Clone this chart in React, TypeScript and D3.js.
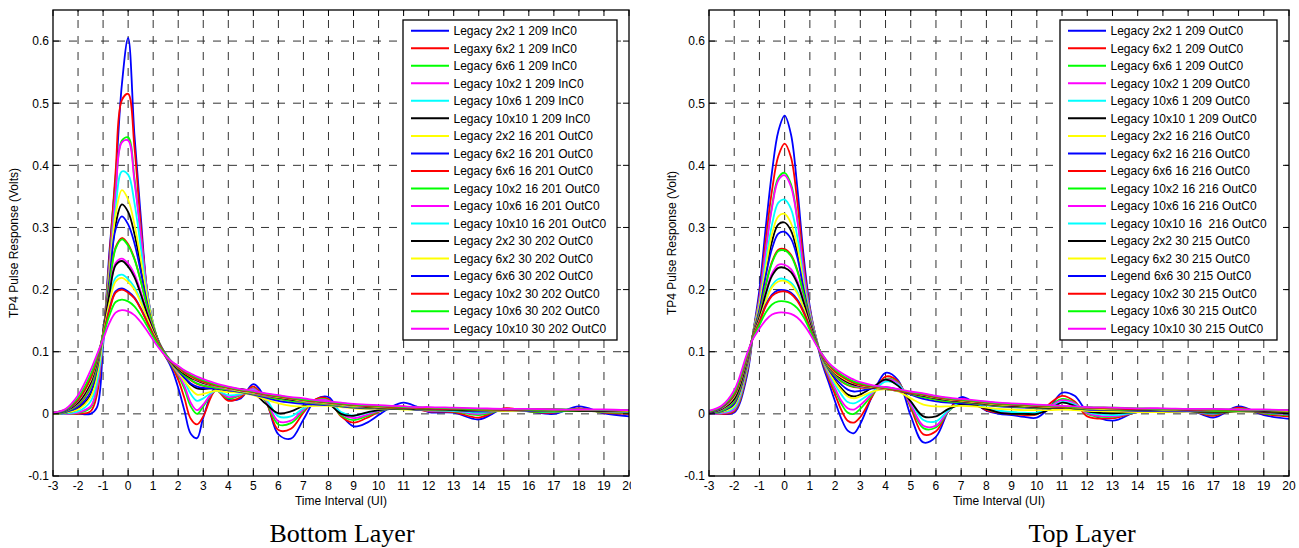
import React from "react";
import * as d3 from "d3";

// sample positions (UI) shared by every trace
const T = [-3, -2.5, -2, -1.5, -1.25, -1, -0.75, -0.5, -0.25,
  0, 0.25, 0.5, 0.75, 1, 1.25, 1.5, 1.75,
  2, 2.25, 2.5, 2.75, 3,
  3.5, 4, 4.5, 5, 5.5, 6, 6.5, 7, 7.5, 8, 8.5, 9, 9.5, 10, 10.5, 11, 11.5, 12,
  13, 14, 15, 16, 17, 18, 19, 20];

const xTicks = [-3, -2, -1, 0, 1, 2, 3, 4, 5, 6, 7, 8, 9, 10, 11, 12, 13, 14, 15, 16, 17, 18, 19, 20];
const yTicks = [-0.1, 0, 0.1, 0.2, 0.3, 0.4, 0.5, 0.6];
const yTickLabels = ["-0.1", "0", "0.1", "0.2", "0.3", "0.4", "0.5", "0.6"];

// matlab default line cycle b r g m c k y
const colors = ["#0000ff", "#ff0000", "#00ff00", "#ff00ff", "#00ffff", "#000000", "#ffff00"];

const bottomNames = [
  "Legacy 2x2 1 209 InC0", "Legaxy 6x2 1 209 InC0", "Legacy 6x6 1 209 InC0",
  "Legacy 10x2 1 209 InC0", "Legacy 10x6 1 209 InC0", "Legacy 10x10 1 209 InC0",
  "Legacy 2x2 16 201 OutC0", "Legacy 6x2 16 201 OutC0", "Legacy 6x6 16 201 OutC0",
  "Legacy 10x2 16 201 OutC0", "Legacy 10x6 16 201 OutC0", "Legacy 10x10 16 201 OutC0",
  "Legacy 2x2 30 202 OutC0", "Legacy 6x2 30 202 OutC0", "Legacy 6x6 30 202 OutC0",
  "Legacy 10x2 30 202 OutC0", "Legacy 10x6 30 202 OutC0", "Legacy 10x10 30 202 OutC0",
];

const topNames = [
  "Legacy 2x2 1 209 OutC0", "Legacy 6x2 1 209 OutC0", "Legacy 6x6 1 209 OutC0",
  "Legacy 10x2 1 209 OutC0", "Legacy 10x6 1 209 OutC0", "Legacy 10x10 1 209 OutC0",
  "Legacy 2x2 16 216 OutC0", "Legacy 6x2 16 216 OutC0", "Legacy 6x6 16 216 OutC0",
  "Legacy 10x2 16 216 OutC0", "Legacy 10x6 16 216 OutC0", "Legacy 10x10 16  216 OutC0",
  "Legacy 2x2 30 215 OutC0", "Legacy 6x2 30 215 OutC0", "Legend 6x6 30 215 OutC0",
  "Legacy 10x2 30 215 OutC0", "Legacy 10x6 30 215 OutC0", "Legacy 10x10 30 215 OutC0",
];

// bottom layer pulse responses (V)
const bottomSeries = [
  [0, 0, 0, 0, 0.01, 0.11, 0.26, 0.38, 0.53,
    0.605, 0.45, 0.32, 0.2, 0.14, 0.11, 0.092, 0.072,
    0.042, 0.005, -0.032, -0.039, -0.006,
    0.042, 0.023, 0.025, 0.048, 0.022, -0.033, -0.04, -0.009, 0.023, 0.027, -0.001, -0.02, -0.015, -0.002, 0.011, 0.018, 0.012, 0.003,
    0.002, -0.009, 0.008, 0.004, 0, 0.012, 0.001, -0.004],
  [0, 0, 0, 0.004, 0.03, 0.12, 0.25, 0.39, 0.505,
    0.515, 0.43, 0.305, 0.2, 0.14, 0.108, 0.092, 0.077,
    0.055, 0.025, -0.008, -0.017, -0.004,
    0.038, 0.021, 0.027, 0.044, 0.02, -0.026, -0.024, 0.002, 0.024, 0.024, -0.004, -0.014, -0.007, 0.003, 0.01, 0.012, 0.008, 0.004,
    0.003, -0.006, 0.009, 0.004, 0.002, 0.009, 0.002, 0],
  [0, 0, 0.001, 0.01, 0.04, 0.12, 0.24, 0.36, 0.44,
    0.445, 0.38, 0.29, 0.2, 0.145, 0.11, 0.093, 0.078,
    0.062, 0.04, 0.012, 0, 0.012,
    0.038, 0.025, 0.03, 0.041, 0.02, -0.017, -0.015, 0.005, 0.022, 0.022, -0.002, -0.01, -0.004, 0.004, 0.008, 0.009, 0.007, 0.005,
    0.004, -0.002, 0.007, 0.004, 0.003, 0.007, 0.003, 0.002],
  [0, 0, 0.002, 0.012, 0.042, 0.12, 0.235, 0.355, 0.437,
    0.44, 0.375, 0.29, 0.2, 0.145, 0.112, 0.094, 0.079,
    0.064, 0.045, 0.018, 0.006, 0.015,
    0.038, 0.027, 0.031, 0.04, 0.022, -0.012, -0.011, 0.007, 0.021, 0.021, 0, -0.007, -0.002, 0.005, 0.008, 0.009, 0.007, 0.005,
    0.005, 0, 0.007, 0.005, 0.004, 0.006, 0.004, 0.003],
  [0, 0.001, 0.004, 0.02, 0.05, 0.12, 0.225, 0.33, 0.39,
    0.385, 0.34, 0.27, 0.195, 0.145, 0.113, 0.095, 0.08,
    0.067, 0.052, 0.032, 0.021, 0.025,
    0.037, 0.03, 0.032, 0.038, 0.024, -0.004, -0.004, 0.009, 0.019, 0.019, 0.003, -0.003, 0.001, 0.006, 0.008, 0.008, 0.007, 0.006,
    0.005, 0.002, 0.006, 0.005, 0.004, 0.005, 0.004, 0.003],
  [0, 0.002, 0.008, 0.03, 0.065, 0.13, 0.22, 0.305, 0.337,
    0.325, 0.29, 0.24, 0.185, 0.142, 0.113, 0.095, 0.08,
    0.068, 0.058, 0.047, 0.041, 0.04,
    0.041, 0.037, 0.04, 0.034, 0.016, 0.001, 0.004, 0.013, 0.018, 0.016, 0, -0.003, 0.002, 0.006, 0.008, 0.008, 0.007, 0.006,
    0.006, 0.004, 0.005, 0.005, 0.005, 0.005, 0.004, 0.004],
  [0, 0.002, 0.007, 0.027, 0.06, 0.125, 0.225, 0.32, 0.36,
    0.345, 0.305, 0.25, 0.19, 0.144, 0.113, 0.095, 0.08,
    0.067, 0.053, 0.04, 0.031, 0.032,
    0.037, 0.035, 0.034, 0.03, 0.023, 0.017, 0.013, 0.012, 0.013, 0.013, 0.011, 0.009, 0.008, 0.008, 0.008, 0.007, 0.007, 0.006,
    0.006, 0.005, 0.005, 0.005, 0.005, 0.005, 0.004, 0.004],
  [0.001, 0.003, 0.011, 0.035, 0.07, 0.13, 0.215, 0.297, 0.318,
    0.305, 0.275, 0.23, 0.18, 0.14, 0.113, 0.095, 0.081,
    0.069, 0.058, 0.049, 0.044, 0.042,
    0.041, 0.038, 0.035, 0.031, 0.026, 0.021, 0.018, 0.016, 0.015, 0.014, 0.012, 0.01, 0.009, 0.009, 0.008, 0.008, 0.007, 0.007,
    0.006, 0.005, 0.006, 0.005, 0.005, 0.006, 0.005, 0.004],
  [0.001, 0.004, 0.014, 0.042, 0.075, 0.13, 0.205, 0.268, 0.283,
    0.273, 0.25, 0.215, 0.175, 0.14, 0.114, 0.096, 0.082,
    0.071, 0.062, 0.054, 0.048, 0.045,
    0.042, 0.039, 0.036, 0.032, 0.028, 0.024, 0.021, 0.019, 0.017, 0.015, 0.013, 0.011, 0.01, 0.009, 0.009, 0.008, 0.008, 0.007,
    0.007, 0.006, 0.006, 0.006, 0.005, 0.005, 0.005, 0.005],
  [0.001, 0.004, 0.015, 0.043, 0.076, 0.13, 0.203, 0.266, 0.281,
    0.271, 0.249, 0.214, 0.174, 0.14, 0.114, 0.096, 0.082,
    0.071, 0.062, 0.055, 0.049, 0.046,
    0.042, 0.039, 0.036, 0.032, 0.028, 0.024, 0.021, 0.019, 0.017, 0.015, 0.013, 0.011, 0.01, 0.009, 0.009, 0.008, 0.008, 0.007,
    0.007, 0.006, 0.006, 0.006, 0.005, 0.005, 0.005, 0.005],
  [0.001, 0.005, 0.017, 0.048, 0.081, 0.13, 0.195, 0.243, 0.25,
    0.242, 0.225, 0.197, 0.165, 0.136, 0.113, 0.096, 0.083,
    0.073, 0.065, 0.058, 0.053, 0.049,
    0.044, 0.04, 0.037, 0.033, 0.029, 0.026, 0.023, 0.02, 0.018, 0.016, 0.014, 0.012, 0.011, 0.01, 0.01, 0.009, 0.009, 0.008,
    0.008, 0.007, 0.007, 0.006, 0.006, 0.006, 0.005, 0.005],
  [0.002, 0.006, 0.02, 0.053, 0.084, 0.128, 0.182, 0.219, 0.224,
    0.217, 0.204, 0.183, 0.157, 0.132, 0.112, 0.096, 0.083,
    0.074, 0.066, 0.06, 0.055, 0.051,
    0.045, 0.041, 0.037, 0.034, 0.03, 0.027, 0.024, 0.021, 0.019, 0.017, 0.015, 0.013, 0.012, 0.011, 0.01, 0.01, 0.009, 0.009,
    0.008, 0.007, 0.007, 0.007, 0.006, 0.006, 0.006, 0.005],
  [0.001, 0.005, 0.018, 0.05, 0.082, 0.13, 0.192, 0.239, 0.246,
    0.237, 0.22, 0.193, 0.162, 0.134, 0.112, 0.095, 0.082,
    0.072, 0.064, 0.058, 0.054, 0.05,
    0.045, 0.041, 0.038, 0.034, 0.03, 0.026, 0.023, 0.021, 0.019, 0.017, 0.015, 0.013, 0.011, 0.01, 0.009, 0.009, 0.008, 0.008,
    0.007, 0.006, 0.006, 0.006, 0.006, 0.005, 0.005, 0.005],
  [0.002, 0.006, 0.021, 0.054, 0.085, 0.128, 0.178, 0.213, 0.219,
    0.212, 0.2, 0.18, 0.155, 0.131, 0.111, 0.095, 0.083,
    0.074, 0.066, 0.06, 0.055, 0.051,
    0.045, 0.041, 0.037, 0.034, 0.03, 0.027, 0.024, 0.021, 0.019, 0.017, 0.015, 0.013, 0.012, 0.011, 0.01, 0.01, 0.009, 0.009,
    0.008, 0.007, 0.007, 0.007, 0.006, 0.006, 0.006, 0.005],
  [0.002, 0.006, 0.022, 0.057, 0.087, 0.125, 0.168, 0.197, 0.202,
    0.197, 0.187, 0.17, 0.149, 0.128, 0.11, 0.095, 0.083,
    0.075, 0.067, 0.061, 0.056, 0.052,
    0.046, 0.042, 0.038, 0.035, 0.031, 0.028, 0.025, 0.022, 0.02, 0.018, 0.016, 0.014, 0.013, 0.012, 0.011, 0.01, 0.01, 0.009,
    0.008, 0.008, 0.007, 0.007, 0.007, 0.006, 0.006, 0.006],
  [0.002, 0.007, 0.023, 0.058, 0.088, 0.125, 0.166, 0.195, 0.2,
    0.195, 0.186, 0.169, 0.148, 0.127, 0.11, 0.095, 0.083,
    0.075, 0.067, 0.061, 0.056, 0.052,
    0.046, 0.042, 0.038, 0.035, 0.031, 0.028, 0.025, 0.022, 0.02, 0.018, 0.016, 0.014, 0.013, 0.012, 0.011, 0.01, 0.01, 0.009,
    0.008, 0.008, 0.007, 0.007, 0.007, 0.006, 0.006, 0.006],
  [0.002, 0.007, 0.026, 0.063, 0.091, 0.124, 0.158, 0.18, 0.184,
    0.181, 0.173, 0.159, 0.142, 0.124, 0.108, 0.095, 0.084,
    0.076, 0.069, 0.063, 0.058, 0.054,
    0.047, 0.043, 0.039, 0.036, 0.032, 0.029, 0.026, 0.023, 0.021, 0.019, 0.017, 0.015, 0.014, 0.013, 0.012, 0.011, 0.011, 0.01,
    0.009, 0.008, 0.008, 0.007, 0.007, 0.007, 0.006, 0.006],
  [0.002, 0.008, 0.03, 0.07, 0.095, 0.12, 0.146, 0.163, 0.167,
    0.165, 0.159, 0.148, 0.134, 0.119, 0.105, 0.093, 0.084,
    0.077, 0.07, 0.065, 0.06, 0.056,
    0.049, 0.044, 0.04, 0.037, 0.033, 0.03, 0.027, 0.025, 0.022, 0.02, 0.018, 0.016, 0.015, 0.014, 0.013, 0.012, 0.011, 0.011,
    0.01, 0.009, 0.008, 0.008, 0.007, 0.007, 0.007, 0.006],
];

// top layer pulse responses (V)
const topSeries = [
  [0, 0, 0.002, 0.06, 0.13, 0.2, 0.3, 0.39, 0.455,
    0.48, 0.45, 0.365, 0.255, 0.172, 0.12, 0.08, 0.05,
    0.02, -0.008, -0.027, -0.031, -0.016,
    0.031, 0.066, 0.054, -0.003, -0.046, -0.037, 0.005, 0.027, 0.018, 0.005, 0, -0.002, -0.005, -0.006, 0.01, 0.034, 0.029, 0.004,
    -0.011, 0.004, 0.004, 0.007, -0.006, 0.012, -0.002, -0.008],
  [0, 0, 0.004, 0.065, 0.13, 0.19, 0.28, 0.36, 0.415,
    0.435, 0.413, 0.342, 0.243, 0.168, 0.121, 0.084, 0.056,
    0.031, 0.006, -0.011, -0.014, -0.005,
    0.03, 0.06, 0.052, 0.01, -0.033, -0.028, 0.005, 0.024, 0.018, 0.006, 0.002, 0, -0.002, -0.001, 0.016, 0.029, 0.02, -0.004,
    -0.007, 0.003, 0.004, 0.006, -0.003, 0.01, 0, -0.004],
  [0, 0.001, 0.006, 0.068, 0.13, 0.185, 0.265, 0.335, 0.38,
    0.388, 0.37, 0.315, 0.232, 0.166, 0.122, 0.086, 0.06,
    0.038, 0.016, 0.002, 0, 0.008,
    0.032, 0.056, 0.05, 0.013, -0.023, -0.022, 0.004, 0.02, 0.018, 0.008, 0.003, 0.001, 0, 0, 0.012, 0.024, 0.018, 0,
    -0.005, 0.003, 0.004, 0.005, -0.001, 0.008, 0.001, -0.002],
  [0, 0.001, 0.007, 0.07, 0.13, 0.184, 0.263, 0.332, 0.376,
    0.384, 0.366, 0.312, 0.23, 0.165, 0.122, 0.087, 0.062,
    0.041, 0.021, 0.009, 0.007, 0.014,
    0.034, 0.055, 0.049, 0.015, -0.019, -0.019, 0.005, 0.019, 0.017, 0.008, 0.004, 0.002, 0.001, 0.001, 0.011, 0.022, 0.017, 0.001,
    -0.004, 0.003, 0.004, 0.005, 0, 0.007, 0.002, -0.001],
  [0.001, 0.002, 0.01, 0.073, 0.13, 0.178, 0.245, 0.305, 0.34,
    0.345, 0.33, 0.285, 0.217, 0.16, 0.12, 0.088, 0.066,
    0.047, 0.031, 0.019, 0.017, 0.022,
    0.036, 0.052, 0.047, 0.02, -0.01, -0.012, 0.006, 0.018, 0.017, 0.01, 0.005, 0.003, 0.002, 0.002, 0.01, 0.019, 0.015, 0.003,
    -0.002, 0.003, 0.004, 0.005, 0.001, 0.006, 0.003, 0],
  [0.001, 0.003, 0.014, 0.076, 0.129, 0.172, 0.228, 0.278, 0.305,
    0.308, 0.295, 0.26, 0.205, 0.155, 0.118, 0.089, 0.069,
    0.053, 0.041, 0.031, 0.028, 0.031,
    0.043, 0.055, 0.045, 0.02, -0.004, -0.004, 0.008, 0.015, 0.014, 0.008, 0.002, 0, 0, 0, 0.007, 0.018, 0.013, 0.004,
    0.001, 0.003, 0.003, 0.004, 0.002, 0.004, 0.003, 0.001],
  [0.001, 0.003, 0.013, 0.075, 0.13, 0.175, 0.235, 0.29, 0.318,
    0.322, 0.307, 0.27, 0.21, 0.157, 0.119, 0.089, 0.068,
    0.051, 0.038, 0.028, 0.025, 0.028,
    0.036, 0.04, 0.036, 0.025, 0.015, 0.012, 0.012, 0.013, 0.012, 0.01, 0.008, 0.007, 0.006, 0.006, 0.006, 0.007, 0.006, 0.005,
    0.004, 0.003, 0.003, 0.004, 0.004, 0.004, 0.004, 0.004],
  [0.001, 0.004, 0.016, 0.078, 0.129, 0.168, 0.222, 0.266, 0.29,
    0.293, 0.282, 0.252, 0.202, 0.154, 0.118, 0.09, 0.071,
    0.057, 0.047, 0.039, 0.036, 0.037,
    0.041, 0.043, 0.039, 0.031, 0.024, 0.02, 0.018, 0.017, 0.016, 0.014, 0.012, 0.011, 0.01, 0.009, 0.009, 0.01, 0.009, 0.007,
    0.006, 0.005, 0.005, 0.005, 0.005, 0.005, 0.005, 0.004],
  [0.002, 0.005, 0.019, 0.081, 0.128, 0.162, 0.208, 0.245, 0.264,
    0.265, 0.256, 0.232, 0.193, 0.151, 0.117, 0.091, 0.073,
    0.061, 0.052, 0.046, 0.043, 0.042,
    0.042, 0.041, 0.038, 0.032, 0.027, 0.023, 0.02, 0.019, 0.017, 0.015, 0.013, 0.012, 0.011, 0.01, 0.01, 0.01, 0.009, 0.008,
    0.007, 0.006, 0.006, 0.006, 0.005, 0.005, 0.005, 0.005],
  [0.002, 0.005, 0.02, 0.082, 0.128, 0.161, 0.206, 0.243, 0.262,
    0.263, 0.254, 0.23, 0.192, 0.15, 0.117, 0.091, 0.073,
    0.062, 0.053, 0.047, 0.044, 0.043,
    0.042, 0.041, 0.038, 0.032, 0.027, 0.023, 0.02, 0.019, 0.017, 0.015, 0.013, 0.012, 0.011, 0.01, 0.01, 0.01, 0.009, 0.008,
    0.007, 0.006, 0.006, 0.006, 0.005, 0.005, 0.005, 0.005],
  [0.002, 0.007, 0.023, 0.084, 0.127, 0.157, 0.196, 0.226, 0.24,
    0.24, 0.233, 0.214, 0.183, 0.147, 0.116, 0.092, 0.075,
    0.064, 0.056, 0.05, 0.046, 0.044,
    0.042, 0.04, 0.037, 0.033, 0.029, 0.025, 0.022, 0.02, 0.018, 0.016, 0.014, 0.013, 0.012, 0.011, 0.011, 0.01, 0.01, 0.009,
    0.008, 0.007, 0.007, 0.006, 0.006, 0.006, 0.005, 0.005],
  [0.003, 0.009, 0.027, 0.087, 0.125, 0.152, 0.184, 0.207, 0.217,
    0.217, 0.211, 0.197, 0.173, 0.142, 0.115, 0.093, 0.077,
    0.066, 0.059, 0.053, 0.049, 0.046,
    0.043, 0.04, 0.037, 0.034, 0.03, 0.026, 0.023, 0.021, 0.019, 0.017, 0.015, 0.014, 0.013, 0.012, 0.011, 0.011, 0.01, 0.009,
    0.008, 0.008, 0.007, 0.007, 0.006, 0.006, 0.006, 0.005],
  [0.002, 0.008, 0.024, 0.085, 0.126, 0.155, 0.193, 0.222, 0.235,
    0.235, 0.228, 0.21, 0.18, 0.145, 0.116, 0.092, 0.076,
    0.065, 0.057, 0.051, 0.047, 0.045,
    0.042, 0.04, 0.037, 0.033, 0.029, 0.025, 0.022, 0.02, 0.018, 0.016, 0.014, 0.013, 0.012, 0.011, 0.01, 0.01, 0.009, 0.009,
    0.008, 0.007, 0.007, 0.006, 0.006, 0.006, 0.005, 0.005],
  [0.003, 0.009, 0.028, 0.088, 0.125, 0.151, 0.181, 0.204, 0.213,
    0.214, 0.208, 0.194, 0.171, 0.141, 0.115, 0.093, 0.077,
    0.066, 0.059, 0.053, 0.049, 0.046,
    0.043, 0.04, 0.037, 0.034, 0.03, 0.026, 0.023, 0.021, 0.019, 0.017, 0.015, 0.014, 0.013, 0.012, 0.011, 0.011, 0.01, 0.009,
    0.008, 0.008, 0.007, 0.007, 0.006, 0.006, 0.006, 0.005],
  [0.003, 0.01, 0.03, 0.09, 0.124, 0.148, 0.175, 0.192, 0.199,
    0.199, 0.195, 0.184, 0.165, 0.139, 0.114, 0.094, 0.079,
    0.068, 0.061, 0.055, 0.05, 0.047,
    0.044, 0.041, 0.038, 0.034, 0.031, 0.027, 0.024, 0.022, 0.02, 0.018, 0.016, 0.015, 0.014, 0.013, 0.012, 0.011, 0.011, 0.01,
    0.009, 0.008, 0.008, 0.007, 0.007, 0.006, 0.006, 0.006],
  [0.003, 0.011, 0.031, 0.091, 0.124, 0.147, 0.173, 0.19, 0.196,
    0.197, 0.193, 0.182, 0.163, 0.138, 0.114, 0.094, 0.079,
    0.068, 0.061, 0.055, 0.05, 0.047,
    0.044, 0.041, 0.038, 0.034, 0.031, 0.027, 0.024, 0.022, 0.02, 0.018, 0.016, 0.015, 0.014, 0.013, 0.012, 0.011, 0.011, 0.01,
    0.009, 0.008, 0.008, 0.007, 0.007, 0.006, 0.006, 0.006],
  [0.004, 0.012, 0.034, 0.093, 0.123, 0.143, 0.163, 0.176, 0.181,
    0.181, 0.178, 0.17, 0.156, 0.135, 0.113, 0.095, 0.081,
    0.071, 0.063, 0.057, 0.052, 0.049,
    0.045, 0.042, 0.039, 0.035, 0.032, 0.028, 0.025, 0.023, 0.021, 0.019, 0.017, 0.016, 0.015, 0.014, 0.013, 0.012, 0.011, 0.011,
    0.01, 0.009, 0.008, 0.008, 0.007, 0.007, 0.006, 0.006],
  [0.005, 0.013, 0.038, 0.096, 0.121, 0.137, 0.151, 0.16, 0.163,
    0.163, 0.161, 0.155, 0.144, 0.129, 0.111, 0.095, 0.082,
    0.073, 0.066, 0.06, 0.055, 0.051,
    0.046, 0.043, 0.04, 0.036, 0.033, 0.029, 0.026, 0.024, 0.022, 0.02, 0.018, 0.017, 0.016, 0.015, 0.014, 0.013, 0.012, 0.011,
    0.01, 0.009, 0.009, 0.008, 0.008, 0.007, 0.007, 0.006],
];

const SANS = "'Liberation Sans', Arial, Helvetica, sans-serif";
const SERIF = "'Liberation Serif', 'Times New Roman', serif";

type PanelProps = {
  id: string;
  series: number[][];
  names: string[];
  yLabel: string;
  caption: string;
  left: number;
  right: number;
  legendX: number;
  legendW: number;
  captionX: number;
  yLabelX: number;
  cropRight?: number;
};

function Panel(p: PanelProps) {
  const top = 10;
  const bottom = 476;
  const x = d3.scaleLinear().domain([-3, 20]).range([p.left, p.right]);
  const y = d3.scaleLinear().domain([-0.1, 0.65]).range([bottom, top]);
  const line = d3
    .line<number>()
    .defined((v) => v !== undefined)
    .x((_, i) => x(T[i]))
    .y((v) => y(v))
    .curve(d3.curveCatmullRom.alpha(0.5));

  const rowH = 17.53;
  const legendTop = 20;
  const tick = 6;

  return (
    <g clipPath={p.cropRight ? `url(#${p.id}-crop)` : undefined}>
      <defs>
        <clipPath id={`${p.id}-plot`}>
          <rect x={p.left} y={top} width={p.right - p.left} height={bottom - top} />
        </clipPath>
        {p.cropRight && (
          <clipPath id={`${p.id}-crop`}>
            <rect x={0} y={0} width={p.cropRight} height={548} />
          </clipPath>
        )}
      </defs>

      {/* grid */}
      <g stroke="#333" strokeWidth={1} strokeDasharray="8 8" fill="none">
        {xTicks.filter((t) => t > -3 && t < 20).map((t) => (
          <line key={"gx" + t} x1={x(t)} x2={x(t)} y1={bottom} y2={top} />
        ))}
        {yTicks.filter((v) => v > -0.1).map((v) => (
          <line key={"gy" + v} x1={p.left} x2={p.right} y1={y(v)} y2={y(v)} />
        ))}
      </g>

      {/* traces */}
      <g clipPath={`url(#${p.id}-plot)`} fill="none" strokeWidth={1.8} strokeLinejoin="round">
        {p.series.map((s, i) => (
          <path key={i} d={line(s) || ""} stroke={colors[i % colors.length]} />
        ))}
      </g>

      {/* frame + ticks */}
      <rect x={p.left} y={top} width={p.right - p.left} height={bottom - top} fill="none" stroke="#000" strokeWidth={1.3} />
      <g stroke="#000" strokeWidth={1}>
        {xTicks.map((t) => (
          <g key={"tx" + t}>
            <line x1={x(t)} x2={x(t)} y1={bottom} y2={bottom - tick} />
            <line x1={x(t)} x2={x(t)} y1={top} y2={top + tick} />
          </g>
        ))}
        {yTicks.map((v) => (
          <g key={"ty" + v}>
            <line x1={p.left} x2={p.left + tick} y1={y(v)} y2={y(v)} />
            <line x1={p.right} x2={p.right - tick} y1={y(v)} y2={y(v)} />
          </g>
        ))}
      </g>

      {/* tick labels */}
      <g fontFamily={SANS} fontSize={12} fill="#000">
        {xTicks.map((t) => (
          <text key={"lx" + t} x={x(t)} y={490} textAnchor="middle">{t}</text>
        ))}
        {yTicks.map((v, i) => (
          <text key={"ly" + v} x={p.left - 4} y={y(v) + 4.3} textAnchor="end">{yTickLabels[i]}</text>
        ))}
        <text x={(p.left + p.right) / 2} y={505} textAnchor="middle">Time Interval (UI)</text>
        <text transform={`translate(${p.yLabelX},${(top + bottom) / 2}) rotate(-90)`} textAnchor="middle">
          {p.yLabel}
        </text>
      </g>

      {/* legend */}
      <rect x={p.legendX} y={legendTop} width={p.legendW} height={320} fill="#fff" stroke="#000" strokeWidth={1.3} />
      <g fontFamily={SANS} fontSize={12} fill="#000">
        {p.names.map((n, i) => {
          const cy = legendTop + 10.7 + i * rowH;
          return (
            <g key={n + i}>
              <line x1={p.legendX + 8} x2={p.legendX + 46} y1={cy} y2={cy} stroke={colors[i % colors.length]} strokeWidth={2} />
              <text x={p.legendX + 50.5} y={cy + 4.3} xmlSpace="preserve" style={{ whiteSpace: "pre" }}>{n}</text>
            </g>
          );
        })}
      </g>

      <text x={p.captionX} y={542} textAnchor="middle" fontFamily={SERIF} fontSize={26} fill="#000">
        {p.caption}
      </text>
    </g>
  );
}

export default function App() {
  return (
    <svg width={1299} height={548} style={{ position: "absolute", left: 0, top: 0, background: "#fff" }}>
      <rect width={1299} height={548} fill="#fff" />
      <Panel
        id="bottom"
        series={bottomSeries}
        names={bottomNames}
        yLabel="TP4 Pulse Response (Volts)"
        caption="Bottom Layer"
        left={53}
        right={629}
        legendX={403}
        legendW={214}
        captionX={342}
        yLabelX={18}
        cropRight={631}
      />
      <Panel
        id="top"
        series={topSeries}
        names={topNames}
        yLabel="TP4 Pulse Response (Volt)"
        caption="Top Layer"
        left={709}
        right={1289}
        legendX={1060}
        legendW={217}
        captionX={1082}
        yLabelX={676}
      />
    </svg>
  );
}
